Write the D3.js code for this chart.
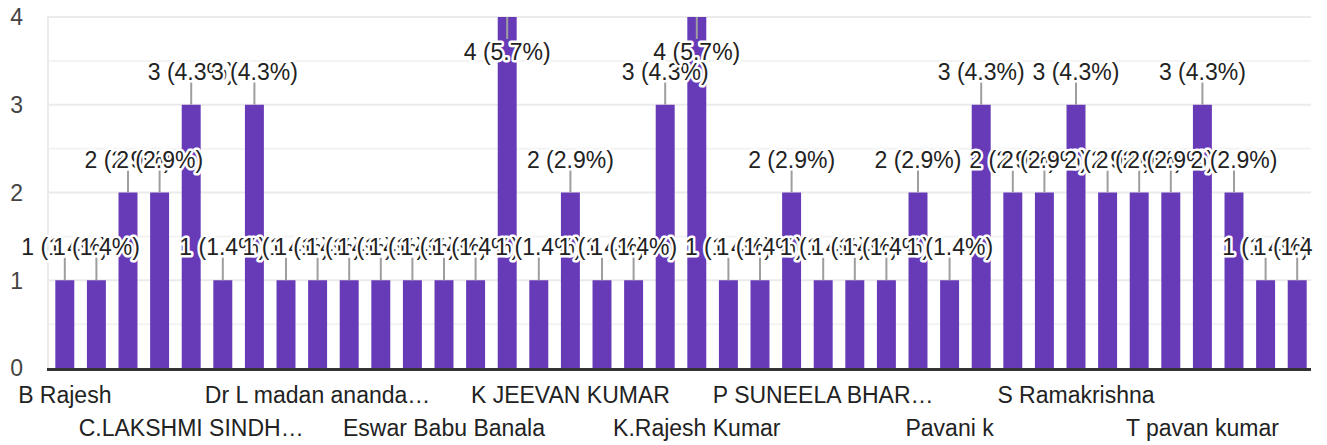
<!DOCTYPE html>
<html>
<head>
<meta charset="utf-8">
<script src="https://cdn.jsdelivr.net/npm/d3@7"></script>
<style>
  body { margin: 0; background: #fff; }
  svg { display: block; font-family: "Liberation Sans", Arial, sans-serif; }
</style>
</head>
<body>
<svg id="chart"></svg>
<script>
// responses per person, left to right
const counts = [1, 1, 2, 2, 3, 1, 3, 1, 1, 1,
                1, 1, 1, 1, 4, 1, 2, 1, 1, 3,
                4, 1, 1, 2, 1, 1, 1, 2, 1, 3,
                2, 2, 3, 2, 2, 2, 3, 2, 1, 1];
// only every 4th name is printed on the axis
const tickLabels = ["B Rajesh", "C.LAKSHMI SINDH…", "Dr L madan ananda…", "Eswar Babu Banala",
                    "K JEEVAN KUMAR", "K.Rajesh Kumar", "P SUNEELA BHAR…", "Pavani k",
                    "S Ramakrishna", "T pavan kumar"];
const yTicks = [0, 1, 2, 3, 4];
const totalResponses = 70;

const width = 1327, height = 445;
const plot = { left: 47, right: 1311, top: 17, bottom: 368 };

const svg = d3.select("#chart").attr("width", width).attr("height", height);

const x = d3.scaleBand()
  .domain(d3.range(counts.length))
  .range([49, 1313])
  .paddingInner(0.4)
  .paddingOuter(0.2);

const y = d3.scaleLinear().domain([0, 4]).range([plot.bottom, plot.top]);

// grid
const grid = svg.append("g");
grid.selectAll(".minor")
  .data(d3.range(0.5, 4, 1))
  .enter().append("line")
  .attr("x1", plot.left).attr("x2", plot.right)
  .attr("y1", d => y(d)).attr("y2", d => y(d))
  .attr("stroke", "#f3f3f3").attr("stroke-width", 2);
grid.selectAll(".major")
  .data(yTicks.slice(1))
  .enter().append("line")
  .attr("x1", plot.left).attr("x2", plot.right)
  .attr("y1", d => y(d)).attr("y2", d => y(d))
  .attr("stroke", "#ebebeb").attr("stroke-width", 2);
grid.append("line")
  .attr("x1", plot.left + 1).attr("x2", plot.left + 1)
  .attr("y1", plot.top).attr("y2", plot.bottom)
  .attr("stroke", "#ebebeb").attr("stroke-width", 2);

// y labels
svg.append("g")
  .selectAll("text")
  .data(yTicks)
  .enter().append("text")
  .attr("x", 23)
  .attr("y", d => y(d))
  .attr("dy", "0.36em")
  .attr("text-anchor", "end")
  .attr("fill", "#444")
  .style("font-size", "23px")
  .text(d => d);

// bars
svg.append("g")
  .selectAll("rect")
  .data(counts)
  .enter().append("rect")
  .attr("x", (d, i) => x(i))
  .attr("y", d => y(d))
  .attr("width", x.bandwidth())
  .attr("height", d => plot.bottom - y(d))
  .attr("fill", "#673ab7");

// baseline
svg.append("line")
  .attr("x1", plot.left).attr("x2", plot.right)
  .attr("y1", plot.bottom + 1.5).attr("y2", plot.bottom + 1.5)
  .attr("stroke", "#333").attr("stroke-width", 3);

// x labels, two staggered rows
svg.append("g")
  .selectAll("text")
  .data(tickLabels)
  .enter().append("text")
  .attr("x", (d, k) => x(k * 4) + x.bandwidth() / 2)
  .attr("y", (d, k) => k % 2 === 0 ? 403 : 436)
  .attr("text-anchor", "middle")
  .attr("fill", "#222")
  .style("font-size", "23px")
  .text(d => d);

// annotations (clipped on the right like the original)
svg.append("clipPath").attr("id", "clip")
  .append("rect").attr("x", 0).attr("y", 0).attr("width", 1313).attr("height", height);

const pct = d3.format(".1f");
const notes = svg.append("g").attr("clip-path", "url(#clip)");
counts.forEach((d, i) => {
  const cx = x(i) + x.bandwidth() / 2;
  const yt = y(d);
  const inside = yt - 50 < 0;
  const g = notes.append("g");
  g.append("line")
    .attr("x1", cx).attr("x2", cx)
    .attr("y1", yt).attr("y2", inside ? yt + 22 : yt - 23)
    .attr("stroke", "#9e9e9e").attr("stroke-width", 2);
  g.append("text")
    .attr("x", cx)
    .attr("y", inside ? yt + 43 : yt - 25)
    .attr("text-anchor", "middle")
    .attr("fill", "#222")
    .attr("stroke", "#fff")
    .attr("stroke-width", 5)
    .attr("stroke-linejoin", "round")
    .style("paint-order", "stroke")
    .style("font-size", "23px")
    .text(`${d} (${pct(d / totalResponses * 100)}%)`);
});
</script>
</body>
</html>
